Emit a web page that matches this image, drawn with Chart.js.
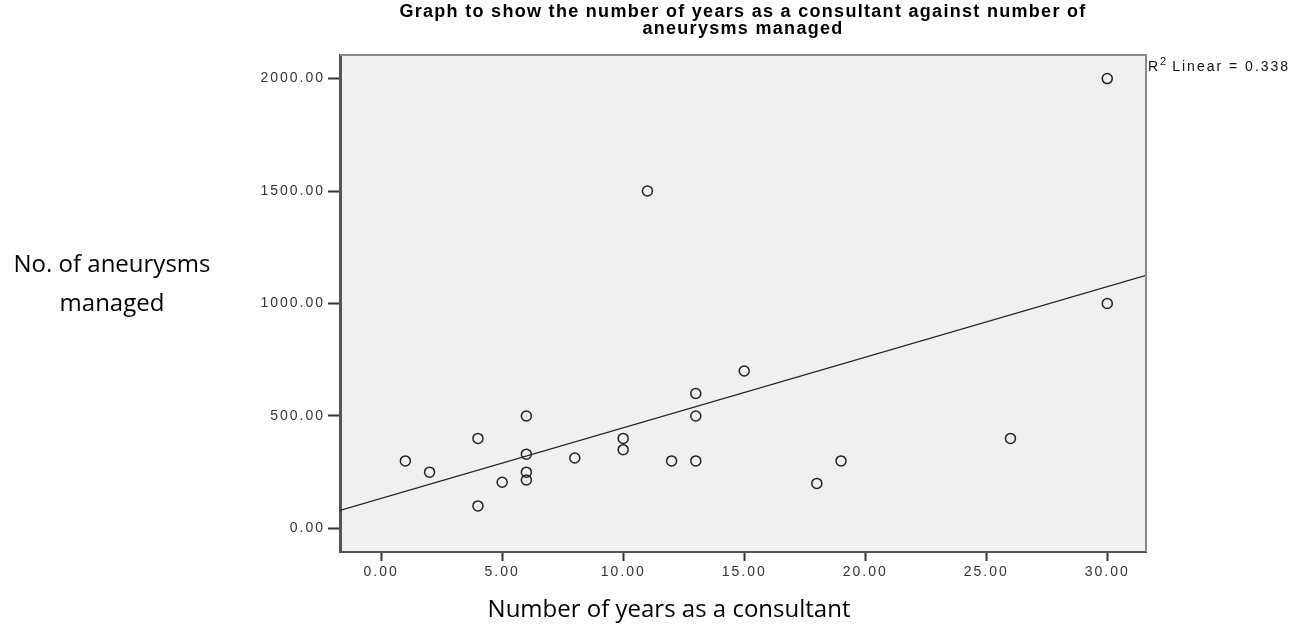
<!DOCTYPE html>
<html>
<head>
<meta charset="utf-8">
<script src="https://cdn.jsdelivr.net/npm/chart.js@4.4.0/dist/chart.umd.min.js"></script>
<style>
  html, body { margin: 0; padding: 0; background: #ffffff; }
  #wrap { width: 1307px; height: 631px; position: relative; }
</style>
</head>
<body>
<div id="wrap"><canvas id="scatterChart"></canvas></div>
<script>
// años como consultor vs. aneurismas tratados
const yearsConsultant = [1, 2, 4, 4, 5, 6, 6, 6, 6, 8, 10, 10, 11, 12, 13, 13, 13, 15, 18, 19, 26, 30, 30];
const aneurysmsManaged = [300, 250, 400, 100, 205, 500, 330, 250, 215, 313, 400, 350, 1500, 300, 600, 500, 300, 700, 200, 300, 400, 1000, 2000];

// recta de ajuste (extremos en los bordes del área)
const fitX = [-1.7, 31.6];
const fitY = [80, 1125];

const xTicks = [0, 5, 10, 15, 20, 25, 30];
const yTicks = [0, 500, 1000, 1500, 2000];

const titleLines = ['Graph to show the number of years as a consultant against number of', 'aneurysms managed'];
const rSquaredText = 'Linear = 0.338';

const points = yearsConsultant.map((x, i) => ({ x: x, y: aneurysmsManaged[i] }));
const fitLine = fitX.map((x, i) => ({ x: x, y: fitY[i] }));

const decorPlugin = {
    id: 'decor',
    beforeDraw(chart) {
        const { ctx, chartArea: a } = chart;
        ctx.save();
        ctx.fillStyle = '#f0f0f0';
        ctx.fillRect(a.left, a.top, a.right - a.left, a.bottom - a.top);
        ctx.restore();
        ctx.letterSpacing = '2px';
    },
    afterDraw(chart) {
        const { ctx, chartArea: a } = chart;
        ctx.save();
        // borde superior y derecho
        ctx.strokeStyle = '#8a8a8a';
        ctx.lineWidth = 2;
        ctx.beginPath();
        ctx.moveTo(a.left, a.top);
        ctx.lineTo(a.right, a.top);
        ctx.lineTo(a.right, a.bottom);
        ctx.stroke();

        // título
        const cx = (a.left + a.right) / 2;
        ctx.fillStyle = '#000';
        ctx.textAlign = 'center';
        ctx.textBaseline = 'alphabetic';
        ctx.letterSpacing = '1.3px';
        ctx.font = 'bold 18px "Liberation Sans", Arial, sans-serif';
        ctx.fillText(titleLines[0], cx, 17);
        ctx.fillText(titleLines[1], cx, 34);

        // R² Linear
        ctx.textAlign = 'left';
        ctx.letterSpacing = '2px';
        ctx.font = '14px "Liberation Sans", Arial, sans-serif';
        ctx.fillStyle = '#111';
        let x = a.right + 2;
        ctx.fillText('R', x, 71);
        x += ctx.measureText('R').width;
        ctx.font = '11px "Liberation Sans", Arial, sans-serif';
        ctx.fillText('2', x, 65);
        x += ctx.measureText('2').width + 4;
        ctx.font = '14px "Liberation Sans", Arial, sans-serif';
        ctx.fillText(rSquaredText, x, 71);

        // títulos de ejes
        ctx.letterSpacing = '0px';
        ctx.font = '24px "Open Sans", "Noto Sans", sans-serif';
        ctx.fillStyle = '#000';
        ctx.textAlign = 'center';
        ctx.fillText('No. of aneurysms', 112, 272);
        ctx.fillText('managed', 112, 311);
        ctx.fillText('Number of years as a consultant', 669, 617);
        ctx.restore();
    }
};

new Chart(document.getElementById('scatterChart'), {
    type: 'scatter',
    data: {
        datasets: [{
            label: 'Aneurysms',
            data: points,
            pointRadius: 5,
            pointHoverRadius: 5,
            pointBorderWidth: 1.5,
            pointBorderColor: '#222',
            pointBackgroundColor: 'rgba(0,0,0,0)',
            showLine: false
        }, {
            label: 'Fit',
            data: fitLine,
            showLine: true,
            pointRadius: 0,
            borderColor: '#222',
            borderWidth: 1.2
        }]
    },
    options: {
        responsive: true,
        maintainAspectRatio: false,
        animation: false,
        layout: { padding: { left: 0, right: 161, top: 55, bottom: 0 } },
        plugins: {
            legend: { display: false },
            title: { display: false },
            tooltip: { enabled: false }
        },
        scales: {
            x: {
                type: 'linear',
                min: -1.7,
                max: 31.6,
                afterFit(scale) { scale.height = 631 - 552; },
                afterBuildTicks(scale) { scale.ticks = xTicks.map(v => ({ value: v })); },
                ticks: {
                    includeBounds: false,
                    padding: 3,
                    color: '#333',
                    font: { family: '"Liberation Sans", Arial, sans-serif', size: 14 },
                    callback: v => Number(v).toFixed(2)
                },
                grid: { drawOnChartArea: false, drawTicks: true, tickLength: 9, tickColor: '#333', tickWidth: 2 },
                border: { display: true, color: '#555', width: 2 }
            },
            y: {
                type: 'linear',
                min: -105,
                max: 2105,
                afterFit(scale) { scale.width = 340; },
                afterBuildTicks(scale) { scale.ticks = yTicks.map(v => ({ value: v })); },
                ticks: {
                    includeBounds: false,
                    padding: 3,
                    color: '#333',
                    font: { family: '"Liberation Sans", Arial, sans-serif', size: 14 },
                    callback: v => Number(v).toFixed(2)
                },
                grid: { drawOnChartArea: false, drawTicks: true, tickLength: 12, tickColor: '#333', tickWidth: 2 },
                border: { display: true, color: '#555', width: 3 }
            }
        }
    },
    plugins: [decorPlugin]
});
</script>
</body>
</html>
